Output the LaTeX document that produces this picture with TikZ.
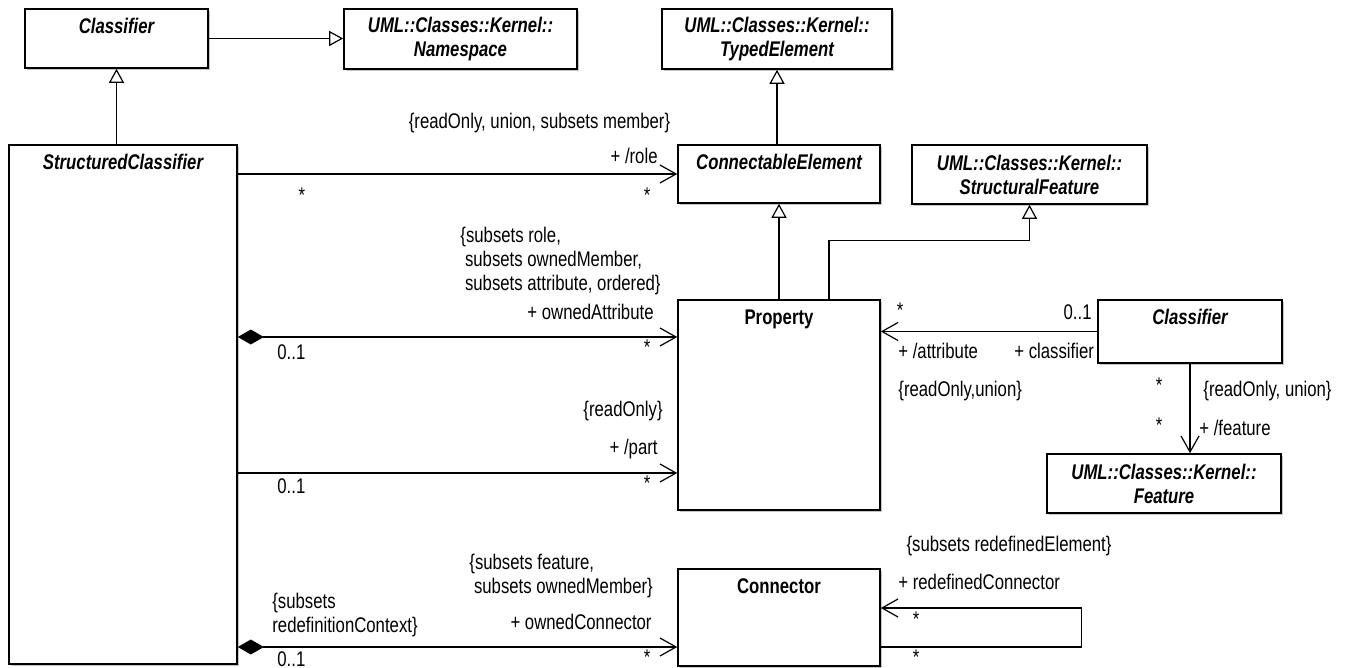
\documentclass[tikz,border=0pt]{standalone}
\usepackage{fontspec}
\setmainfont{Liberation Sans}[FakeStretch=0.79]
\usepackage{tikz}
\usetikzlibrary{arrows.meta,positioning,calc,shadows}

\begin{document}
\begin{tikzpicture}[x=0.5pt, y=-0.5pt,
  every node/.style={font=\fontsize{10.6}{12}\selectfont},
  cls/.style={draw, line width=0.8pt, fill=white, inner sep=0pt,
    drop shadow={shadow xshift=1pt, shadow yshift=-1pt, fill=black!45}},
  abs/.style={font=\fontsize{10.6}{12}\selectfont\bfseries\itshape, align=center},
  title/.style={inner sep=0pt, text height=1.5ex, text depth=.25ex},
  lbl/.style={inner sep=0pt, text height=1.5ex, text depth=.25ex},
  mult/.style={inner sep=0pt},
  note/.style={inner sep=0pt, align=left},
  gen/.style={line width=0.6pt, -{Triangle[open, length=7pt, width=7.5pt, fill=white]}},
  nav/.style={line width=0.6pt, -{Straight Barb[length=8pt, width=9pt]}},
  comp/.style={line width=0.6pt, {Diamond[length=13pt, width=7.5pt]}-{Straight Barb[length=8pt, width=9pt]}}]

\useasboundingbox (0,0) rectangle (1347,668);

% Classes
\node[cls, minimum width=91.5pt, minimum height=29.5pt] (cls1) at (116.5,38.5) {};
\node[cls, abs, minimum width=116.5pt, minimum height=30pt] (ns) at (460.5,39) {UML::Classes::Kernel::\\Namespace};
\node[cls, abs, minimum width=115pt, minimum height=30pt] (te) at (777,39) {UML::Classes::Kernel::\\TypedElement};
\node[cls, minimum width=114pt, minimum height=259.5pt] (sc) at (123,404.5) {};
\node[cls, minimum width=101pt, minimum height=29pt] (ce) at (779,174) {};
\node[cls, abs, minimum width=117.5pt, minimum height=29.5pt] (sf) at (1029.5,174.5) {UML::Classes::Kernel::\\StructuralFeature};
\node[cls, minimum width=101pt, minimum height=105pt] (prop) at (779,405) {};
\node[cls, minimum width=92pt, minimum height=31.5pt] (cls2) at (1190,331.5) {};
\node[cls, abs, minimum width=117pt, minimum height=29.5pt] (feat) at (1164,483.5) {UML::Classes::Kernel::\\Feature};
\node[cls, minimum width=101pt, minimum height=48.5pt] (conn) at (779,617.5) {};

% Class names
\node[title, abs, below=4.5pt of cls1.north] (cls1-t) {Classifier};
\node[title, abs, below=4.5pt of sc.north] (sc-t) {StructuredClassifier};
\node[title, abs, below=4.5pt of ce.north] (ce-t) {ConnectableElement};
\node[title, font=\fontsize{10.6}{12}\selectfont\bfseries, below=4.5pt of prop.north] (prop-t) {Property};
\node[title, abs, below=4.5pt of cls2.north] (cls2-t) {Classifier};
\node[title, font=\fontsize{10.6}{12}\selectfont\bfseries, below=4.5pt of conn.north] (conn-t) {Connector};

% Generalizations
\draw[gen] (cls1.east) -- (cls1.east -| ns.west);
\draw[gen] (cls1.south |- sc.north) -- (cls1.south);
\draw[gen] (te.south |- ce.north) -- (te.south);
\draw[gen] (prop.north) -- (ce.south);
\draw[gen] ($(prop.north)+(50,0)$) -- ++(0,-59) -| (sf.south);

% Associations
\coordinate (attr) at (0,337);
\coordinate (part) at (0,473);
\coordinate (owned) at (0,647);
\draw[nav] (sc.east |- ce.west) -- (ce.west);
\draw[comp] (sc.east |- attr) -- (prop.west |- attr);
\draw[nav] (sc.east |- part) -- (prop.west |- part);
\draw[comp] (sc.east |- owned) -- (conn.west |- owned);
\draw[nav] (cls2.west) -- (cls2.west -| prop.east);
\draw[nav] (cls2.south) -- (cls2.south |- feat.north);
\draw[nav] ($(conn.east)+(0,29.5)$) -- ++(201,0) |- ($(conn.east)+(0,-9.5)$);

% Role ends: StructuredClassifier - ConnectableElement
\node[lbl] (role-c) at (539.5,122) {\{readOnly, union, subsets member\}};
\node[lbl, anchor=east] (role) at (658,157) {+ /role};
\node[mult] (role-m1) at (302,195) {*};
\node[mult] (role-m2) at (647,195) {*};

% Role ends: ownedAttribute
\node[note, anchor=west] (attr-c) at (460,261) {\{subsets role,\\\ subsets ownedMember,\\\ subsets attribute, ordered\}};
\node[lbl, anchor=east] (attr-r) at (654,313) {+ ownedAttribute};
\node[lbl, anchor=west] (attr-m1) at (277,353) {0..1};
\node[mult] (attr-m2) at (647,347) {*};

% Role ends: part
\node[lbl, anchor=east] (part-c) at (663,410) {\{readOnly\}};
\node[lbl, anchor=east] (part-r) at (658,448) {+ /part};
\node[lbl, anchor=west] (part-m1) at (277,487) {0..1};
\node[mult] (part-m2) at (647,483) {*};

% Role ends: ownedConnector
\node[note, anchor=west] (own-c) at (469,576.5) {\{subsets feature,\\\ subsets ownedMember\}};
\node[note, anchor=west] (own-c2) at (272,615) {\{subsets\\redefinitionContext\}};
\node[lbl, anchor=east] (own-r) at (652,623) {+ ownedConnector};
\node[mult, anchor=west] (own-m1) at (277,659) {0..1};
\node[mult] (own-m2) at (647,657) {*};

% Role ends: attribute / classifier
\node[mult] (att-m1) at (900,310) {*};
\node[lbl, anchor=east] (att-m2) at (1092,313) {0..1};
\node[lbl, anchor=west] (att-r1) at (898,352) {+ /attribute};
\node[lbl, anchor=west] (att-r2) at (1014,352) {+ classifier};
\node[lbl, anchor=west] (att-c) at (898,390) {\{readOnly,union\}};

% Role ends: feature
\node[mult] (feat-m1) at (1159,385) {*};
\node[mult] (feat-m2) at (1159,425) {*};
\node[lbl, anchor=west] (feat-c) at (1203,390) {\{readOnly, union\}};
\node[lbl, anchor=west] (feat-r) at (1199,429) {+ /feature};

% Role ends: redefinedConnector
\node[lbl] (redef-c) at (1009,545) {\{subsets redefinedElement\}};
\node[lbl, anchor=west] (redef-r) at (898,583) {+ redefinedConnector};
\node[mult] (redef-m1) at (916,619) {*};
\node[mult] (redef-m2) at (916,657) {*};

\end{tikzpicture}
\end{document}
